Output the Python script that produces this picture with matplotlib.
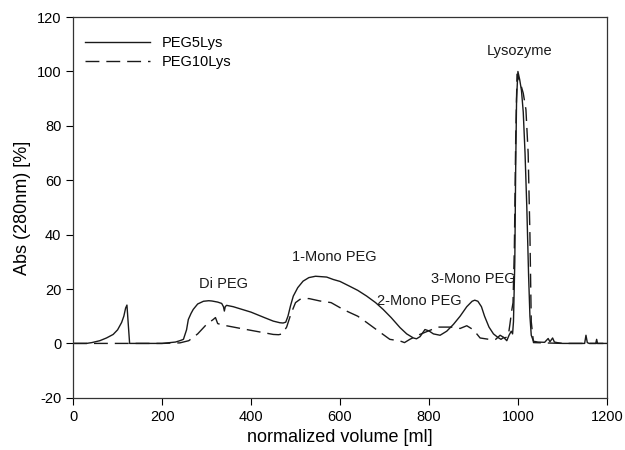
import matplotlib
matplotlib.use("Agg")
import matplotlib.pyplot as plt

plt.rcParams['font.family'] = ['Liberation Sans', 'DejaVu Sans']
plt.rcParams['axes.unicode_minus'] = False

# PEG5Lys (solid)
x_peg5 = [0, 30, 42, 60, 75, 90, 100, 109, 114, 118, 121, 124, 127, 140, 200, 230, 240, 248,
          255, 259, 265, 270, 280, 293, 305, 312, 325, 334, 338, 340, 342, 345, 360, 400,
          430, 450, 465, 472, 478, 483, 489, 495, 505, 517, 530, 545, 570, 585, 600, 622,
          640, 660, 680, 697, 715, 735, 750, 765, 772, 780, 791, 800, 810, 825, 840, 855,
          870, 885, 897, 903, 910, 918, 925, 935, 945, 955, 962, 968, 975, 980, 985, 988,
          990, 993, 995, 997, 1000, 1004, 1008, 1012, 1016, 1020, 1024, 1027, 1030, 1035,
          1045, 1060, 1068, 1072, 1078, 1082, 1088, 1100, 1120, 1150, 1153, 1156, 1160,
          1175, 1177, 1179, 1200]
y_peg5 = [0, 0, 0.3, 1, 2, 3.3, 5, 7.7, 10, 13, 14.1, 7, 0, 0, 0, 0.5, 1, 1.5,
          5, 8.8, 11, 12.5, 14.5, 15.5, 15.7, 15.6, 15.2, 14.7, 13.5, 11.9, 13.5, 14, 13.5, 11.5,
          9.5, 8.2, 7.6, 7.5, 7.8, 10, 14, 17.4, 20.5, 22.9, 24.2, 24.7, 24.4, 23.5, 22.8, 21,
          19.5, 17.4, 15, 12.5, 9.5, 5.8, 3.5, 2, 1.7, 2.5, 5.1, 4.6, 3.5, 3, 4.5, 7,
          10, 13.5, 15.5, 15.9, 15.5, 13.5, 10, 6, 3.5, 2.2, 1.5, 2.2, 1, 3, 4.5, 3.5,
          8, 30, 65, 90, 100, 97, 93, 85, 70, 50, 25, 10, 3, 0.8,
          0.5, 0.4, 1.8, 0.6, 2, 0.5, 0.3, 0, 0, 0, 3, 0.3, 0,
          0, 1.5, 0, 0]

# PEG10Lys (dashed)
x_peg10 = [0, 100, 200, 240, 260, 280, 300, 315, 320, 325, 335, 380, 420, 450, 462, 470,
           480, 490, 500, 510, 530, 555, 580, 607, 620, 640, 660, 685, 712, 735, 745,
           757, 775, 790, 805, 820, 850, 870, 885, 900, 915, 935, 950, 960, 970, 978,
           982, 986, 989, 992, 995, 998, 1005, 1012, 1018, 1023, 1027, 1030, 1035, 1100, 1200]
y_peg10 = [0, 0, 0, 0.2, 1, 3.5, 7, 8.8, 9.5, 7.3, 6.8, 5.4, 4.2, 3.3, 3.2, 3.5,
           6, 11, 15, 16.2, 16.5, 15.6, 15, 12.5, 11.5, 10, 7.7, 4.7, 1.5, 0.9, 0.3,
           1.5, 3, 4, 5, 6, 6, 5.5, 6.5, 5, 2, 1.5, 1.5, 3, 2, 2.5,
           7, 12, 15, 35, 75, 99, 96, 92, 86, 70, 40, 8, 0.3, 0, 0]

labels = ['Di PEG', '1-Mono PEG', '2-Mono PEG', '3-Mono PEG', 'Lysozyme']
label_x = [339, 587, 779, 899, 1003]
label_y = [21.7, 31.6, 15.5, 23.8, 107.4]

fig = plt.figure(figsize=(6.25, 4.5), dpi=100)
ax = fig.add_axes([0.117, 0.116, 0.854, 0.846])

ax.plot(x_peg5, y_peg5, color='#1a1a1a', lw=1.0, label='PEG5Lys')
ax.plot(x_peg10, y_peg10, color='#1a1a1a', lw=1.0, linestyle=(0, (10, 5)), label='PEG10Lys')

for t, lx, ly in zip(labels, label_x, label_y):
    ax.text(lx, ly, t, ha='center', va='center', fontsize=10.5, color='#1a1a1a')

ax.set_xlim(0, 1200)
ax.set_ylim(-20, 120)
ax.set_xticks(range(0, 1201, 200))
ax.set_yticks(range(-20, 121, 20))
ax.tick_params(direction='out', length=5, labelsize=10.5, top=False, right=False)
ax.set_xlabel('normalized volume [ml]', fontsize=13)
ax.set_ylabel('Abs (280nm) [%]', fontsize=13)
for s in ax.spines.values():
    s.set_linewidth(0.9)
    s.set_color('#333333')

ax.legend(loc='upper left', bbox_to_anchor=(0.004, 0.976), frameon=False, fontsize=10.5,
          handlelength=4.4, borderaxespad=0.3, labelspacing=0.3)

fig.savefig('out.png', dpi=100)
